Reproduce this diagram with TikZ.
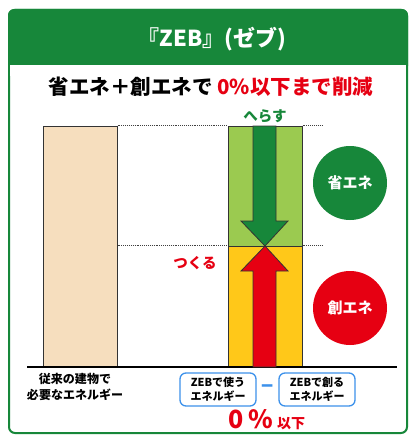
\documentclass[tikz,border=0pt]{standalone}
\usepackage{fontspec}
\setmainfont{Noto Sans CJK JP}
\usetikzlibrary{shapes.geometric, arrows, positioning}
\definecolor{zebgreen}{RGB}{23,135,58}
\definecolor{zeblime}{RGB}{155,202,80}
\definecolor{zebyellow}{RGB}{255,200,25}
\definecolor{zebbeige}{RGB}{246,222,190}
\definecolor{zebred}{RGB}{230,0,18}
\definecolor{zebblue}{RGB}{60,145,235}
\tikzstyle{bar} = [rectangle, draw=black!80, line width=1pt, minimum width=74pt, inner sep=0pt]
\tikzstyle{guide} = [densely dotted, line width=0.9pt, black!75]
\tikzstyle{badge} = [circle, minimum size=74pt, inner sep=0pt, text=white, font=\bfseries\fontsize{15}{15}\selectfont]
\tikzstyle{tag} = [rectangle, rounded corners=6pt, draw=zebblue, line width=1.3pt, fill=white, minimum width=76pt, minimum height=33pt, inner sep=0pt, align=center, font=\bfseries\fontsize{11}{13.5}\selectfont]
\tikzstyle{bigarrow} = [draw=black!80, line width=0.8pt, line join=miter]

\begin{document}
\begin{tikzpicture}[x=1pt, y=-1pt]
\useasboundingbox (0,0) rectangle (410,436);

% frame and header
\draw[zebgreen, line width=2pt, fill=white, rounded corners=6pt] (9,10) rectangle (407,433);
\fill[zebgreen, rounded corners=6pt] (8,9) rectangle (408,72);
\fill[white] (10,65) rectangle (406,76);
\node (title) at (212,39) [text=white, font=\bfseries\fontsize{22}{22}\selectfont] {『ZEB』(ゼブ)};
\node (lead) at (211,87) [font=\bfseries\fontsize{20.5}{20.5}\selectfont] {省エネ＋創エネで \textcolor{zebred}{0\%以下まで削減}};

% bars
\node (conv) [bar, fill=zebbeige, minimum height=241pt] at (80,246.5) {};
\node (save) [bar, fill=zeblime, minimum height=120pt] at (265,186) {};
\node (make) [bar, fill=zebyellow, minimum height=121pt] at (265,306.5) {};

\draw [guide] (conv.north east) -- (save.north west);
\draw [guide] (save.north east) -- ++(20,0);
\draw [guide] (conv.east |- make.north) -- (make.north west);
\draw [guide] (make.north east) -- ++(20,0);

\coordinate (groundL) at (27,367);
\coordinate (groundR) at (397,367);
\draw [line width=1.6pt] (groundL) -- (groundR);

% arrows
\filldraw [bigarrow, fill=zebgreen] (253,126) -- (276,126) -- (276,221) -- (288,221) -- (265,246) -- (241,221) -- (253,221) -- cycle;
\filldraw [bigarrow, fill=zebred] (253,367) -- (276,367) -- (276,271) -- (288,271) -- (265,246) -- (241,271) -- (253,271) -- cycle;

\node (reduce) [above=-1pt of save, text=zebgreen, font=\bfseries\fontsize{14.5}{14.5}\selectfont] {へらす};
\node (create) at (195,263) [text=zebred, font=\bfseries\fontsize{14.5}{14.5}\selectfont] {つくる};

% badges
\node (savebadge) [badge, fill=zebgreen] at (350,183) {省エネ};
\node (makebadge) [badge, fill=zebred] at (350,308) {創エネ};

% labels below the ground
\node (convlabel) at (75,387) [align=center, font=\bfseries\fontsize{12}{16.5}\selectfont] {従来の建物で\\必要なエネルギー};
\node (usetag) [tag] at (218,389.5) {ZEBで使う\\エネルギー};
\node (maketag) [tag] at (317,389.5) {ZEBで創る\\エネルギー};
\node (minus) at (267.5,389) [text=zebblue, font=\bfseries\fontsize{20}{20}\selectfont] {−};
\node (zero) at (267,420) [text=zebred, font=\bfseries] {\fontsize{25}{25}\selectfont 0\,\%\,\fontsize{14}{14}\selectfont 以下};

\end{tikzpicture}
\end{document}
